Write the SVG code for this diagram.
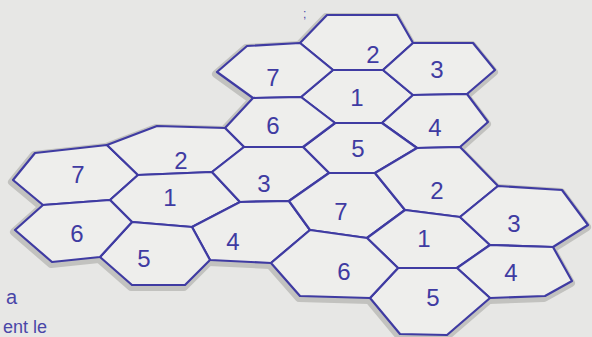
<svg xmlns="http://www.w3.org/2000/svg" width="592" height="337" viewBox="0 0 592 337">
<style>
  .bg{fill:#e7e7e5}
  .node{fill:#eeeeec;stroke:#3f3ba2;stroke-width:2.2;stroke-linejoin:round}
  .halo use{fill:none;stroke:#c2c2bf;stroke-width:8;stroke-linejoin:round}
  .lbl{font-family:"Liberation Sans",Arial,sans-serif;font-size:24px;fill:#3f3ba2;stroke:none;text-anchor:middle;dominant-baseline:central}
  .hand{font-family:"Liberation Sans",Arial,sans-serif;fill:#4a46a8}
</style>
<rect class="bg" x="0" y="0" width="592" height="337"/>

<!-- pencil halo drawn under the ink -->
<g class="halo" transform="translate(-1,2)">
  <use href="#pA1"/><use href="#pA2"/><use href="#pA3"/><use href="#pA4"/><use href="#pA5"/><use href="#pA6"/><use href="#pA7"/>
  <use href="#pB1"/><use href="#pB2"/><use href="#pB3"/><use href="#pB4"/><use href="#pB5"/><use href="#pB6"/><use href="#pB7"/>
  <use href="#pC1"/><use href="#pC2"/><use href="#pC3"/><use href="#pC4"/><use href="#pC5"/><use href="#pC6"/><use href="#pC7"/>
</g>

<!-- connectors: none, cells share edges -->
<g id="connectors"></g>

<!-- top cluster -->
<g id="A2" class="node"><polygon id="pA2" points="300,43 327,15 397,15 413,43 383,70 333,70"/><text class="lbl" x="373" y="54">2</text></g>
<g id="A1" class="node"><polygon id="pA1" points="301,97 333,70 383,70 413,95 382,123 335,123"/><text class="lbl" x="357" y="97">1</text></g>
<g id="A7" class="node"><polygon id="pA7" points="217,72 247,46 300,43 333,70 301,97 253,98"/><text class="lbl" x="273" y="77">7</text></g>
<g id="A3" class="node"><polygon id="pA3" points="383,70 413,43 473,43 495,70 467,94 413,95"/><text class="lbl" x="437" y="69">3</text></g>
<g id="A4" class="node"><polygon id="pA4" points="382,123 413,95 467,94 488,122 460,147 417,148"/><text class="lbl" x="435" y="127">4</text></g>
<g id="A5" class="node"><polygon id="pA5" points="303,147 335,123 382,123 417,148 375,173 329,173"/><text class="lbl" x="358" y="148">5</text></g>
<g id="A6" class="node"><polygon id="pA6" points="225,128 253,98 301,97 335,123 303,147 244,147"/><text class="lbl" x="273" y="125">6</text></g>

<!-- left cluster -->
<g id="B7" class="node"><polygon id="pB7" points="13,180 35,153 107,145 138,175 110,200 43,205"/><text class="lbl" x="78" y="174">7</text></g>
<g id="B2" class="node"><polygon id="pB2" points="107,145 157,126 225,128 244,147 212,172 138,175"/><text class="lbl" x="181" y="160">2</text></g>
<g id="B1" class="node"><polygon id="pB1" points="110,200 138,175 212,172 240,202 192,227 132,222"/><text class="lbl" x="170" y="197">1</text></g>
<g id="B3" class="node"><polygon id="pB3" points="212,172 244,147 303,147 329,173 289,201 240,202"/><text class="lbl" x="264" y="183">3</text></g>
<g id="B4" class="node"><polygon id="pB4" points="192,227 240,202 289,201 310,230 271,263 210,260"/><text class="lbl" x="233" y="241">4</text></g>
<g id="B5" class="node"><polygon id="pB5" points="100,257 132,222 192,227 210,260 185,285 132,285"/><text class="lbl" x="144" y="258">5</text></g>
<g id="B6" class="node"><polygon id="pB6" points="15,230 43,205 110,200 132,222 100,257 52,262"/><text class="lbl" x="77" y="233">6</text></g>

<!-- right cluster -->
<g id="C7" class="node"><polygon id="pC7" points="289,201 329,173 375,173 405,210 367,238 310,230"/><text class="lbl" x="341" y="211">7</text></g>
<g id="C2" class="node"><polygon id="pC2" points="375,173 417,148 460,147 498,186 460,217 405,210"/><text class="lbl" x="437" y="190">2</text></g>
<g id="C1" class="node"><polygon id="pC1" points="367,238 405,210 460,217 490,245 457,268 398,268"/><text class="lbl" x="424" y="238">1</text></g>
<g id="C3" class="node"><polygon id="pC3" points="460,217 498,186 562,190 588,225 553,247 490,245"/><text class="lbl" x="514" y="223">3</text></g>
<g id="C4" class="node"><polygon id="pC4" points="457,268 490,245 553,247 572,281 545,296 490,298"/><text class="lbl" x="511" y="272">4</text></g>
<g id="C5" class="node"><polygon id="pC5" points="370,298 398,268 457,268 490,298 447,335 400,334"/><text class="lbl" x="433" y="297">5</text></g>
<g id="C6" class="node"><polygon id="pC6" points="271,263 310,230 367,238 398,268 370,298 300,296"/><text class="lbl" x="344" y="271">6</text></g>

<!-- stray handwriting -->
<text class="hand" x="303" y="18" font-size="12">;</text>
<text class="hand" x="6" y="304" font-size="20">a</text>
<text class="hand" x="3" y="333" font-size="18">ent  le</text>
</svg>
